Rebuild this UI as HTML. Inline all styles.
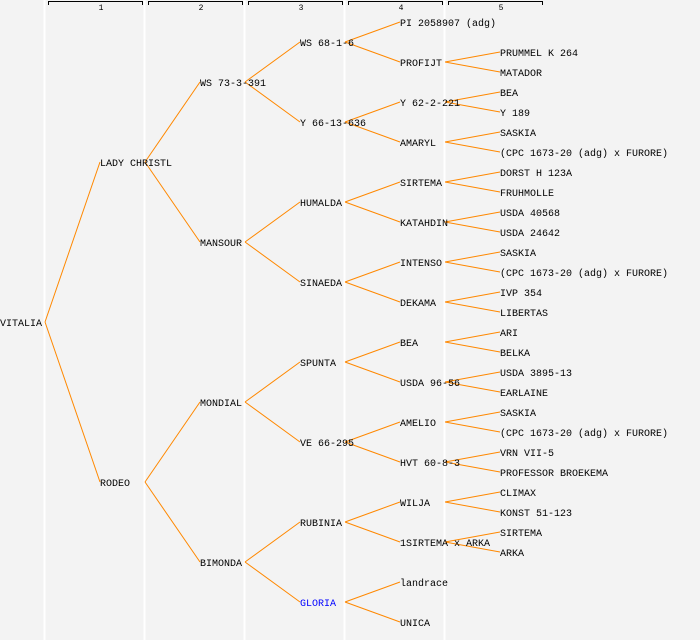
<!DOCTYPE html>
<html><head><meta charset="utf-8"><style>
html,body{margin:0;padding:0;background:#f3f3f3;}
svg{display:block;}
text{font-family:"Liberation Mono","DejaVu Sans Mono",monospace;font-size:10px;fill:#000;}
.h{font-size:8px;text-anchor:middle;}
</style></head><body>
<svg width="700" height="640" viewBox="0 0 700 640">
<rect width="700" height="640" fill="#f3f3f3"/>
<g stroke="#fff" stroke-width="2">
<line x1="44.5" y1="0" x2="44.5" y2="640"/><line x1="144.5" y1="0" x2="144.5" y2="640"/><line x1="244.5" y1="0" x2="244.5" y2="640"/><line x1="344.5" y1="0" x2="344.5" y2="640"/><line x1="444.5" y1="0" x2="444.5" y2="640"/>
</g>
<g stroke="#000" fill="none" stroke-width="1">
<path d="M48.5,5V1.5H142.5V5"/><path d="M148.5,5V1.5H242.5V5"/><path d="M248.5,5V1.5H342.5V5"/><path d="M348.5,5V1.5H442.5V5"/><path d="M448.5,5V1.5H542.5V5"/>
</g>
<text class="h" x="101" y="10">1</text><text class="h" x="201" y="10">2</text><text class="h" x="301" y="10">3</text><text class="h" x="401" y="10">4</text><text class="h" x="501" y="10">5</text>
<g stroke="#ff8800" stroke-width="1" fill="none">
<path d="M45,322L100,162M45,322L100,482"/>
<path d="M145,162L200,82M145,162L200,242M145,482L200,402M145,482L200,562"/>
<path d="M245,82L300,42M245,82L300,122M245,242L300,202M245,242L300,282M245,402L300,362M245,402L300,442M245,562L300,522M245,562L300,602"/>
<path d="M345,42L400,22M345,42L400,62M345,122L400,102M345,122L400,142M345,202L400,182M345,202L400,222M345,282L400,262M345,282L400,302M345,362L400,342M345,362L400,382M345,442L400,422M345,442L400,462M345,522L400,502M345,522L400,542M345,602L400,582M345,602L400,622"/>
<path d="M445,62L500,52M445,62L500,72M445,102L500,92M445,102L500,112M445,142L500,132M445,142L500,152M445,182L500,172M445,182L500,192M445,222L500,212M445,222L500,232M445,262L500,252M445,262L500,272M445,302L500,292M445,302L500,312M445,342L500,332M445,342L500,352M445,382L500,372M445,382L500,392M445,422L500,412M445,422L500,432M445,462L500,452M445,462L500,472M445,502L500,492M445,502L500,512M445,542L500,532M445,542L500,552"/>
</g>
<g>
<text x="0" y="326">VITALIA</text>
<text x="100" y="166">LADY CHRISTL</text><text x="100" y="486">RODEO</text>
<text x="200" y="86">WS 73-3-391</text><text x="200" y="246">MANSOUR</text><text x="200" y="406">MONDIAL</text><text x="200" y="566">BIMONDA</text>
<text x="300" y="46">WS 68-1-6</text><text x="300" y="126">Y 66-13-636</text><text x="300" y="206">HUMALDA</text><text x="300" y="286">SINAEDA</text><text x="300" y="366">SPUNTA</text><text x="300" y="446">VE 66-295</text><text x="300" y="526">RUBINIA</text><text x="300" y="606" style="fill:#0000ff">GLORIA</text>
<text x="400" y="26">PI 2058907 (adg)</text><text x="400" y="66">PROFIJT</text><text x="400" y="106">Y 62-2-221</text><text x="400" y="146">AMARYL</text><text x="400" y="186">SIRTEMA</text><text x="400" y="226">KATAHDIN</text><text x="400" y="266">INTENSO</text><text x="400" y="306">DEKAMA</text><text x="400" y="346">BEA</text><text x="400" y="386">USDA 96-56</text><text x="400" y="426">AMELIO</text><text x="400" y="466">HVT 60-8-3</text><text x="400" y="506">WILJA</text><text x="400" y="546">1SIRTEMA x ARKA</text><text x="400" y="586">landrace</text><text x="400" y="626">UNICA</text>
<text x="500" y="56">PRUMMEL K 264</text><text x="500" y="76">MATADOR</text><text x="500" y="96">BEA</text><text x="500" y="116">Y 189</text><text x="500" y="136">SASKIA</text><text x="500" y="156">(CPC 1673-20 (adg) x FURORE)</text><text x="500" y="176">DORST H 123A</text><text x="500" y="196">FRUHMOLLE</text><text x="500" y="216">USDA 40568</text><text x="500" y="236">USDA 24642</text><text x="500" y="256">SASKIA</text><text x="500" y="276">(CPC 1673-20 (adg) x FURORE)</text><text x="500" y="296">IVP 354</text><text x="500" y="316">LIBERTAS</text><text x="500" y="336">ARI</text><text x="500" y="356">BELKA</text><text x="500" y="376">USDA 3895-13</text><text x="500" y="396">EARLAINE</text><text x="500" y="416">SASKIA</text><text x="500" y="436">(CPC 1673-20 (adg) x FURORE)</text><text x="500" y="456">VRN VII-5</text><text x="500" y="476">PROFESSOR BROEKEMA</text><text x="500" y="496">CLIMAX</text><text x="500" y="516">KONST 51-123</text><text x="500" y="536">SIRTEMA</text><text x="500" y="556">ARKA</text>
</g>
</svg>
</body></html>
